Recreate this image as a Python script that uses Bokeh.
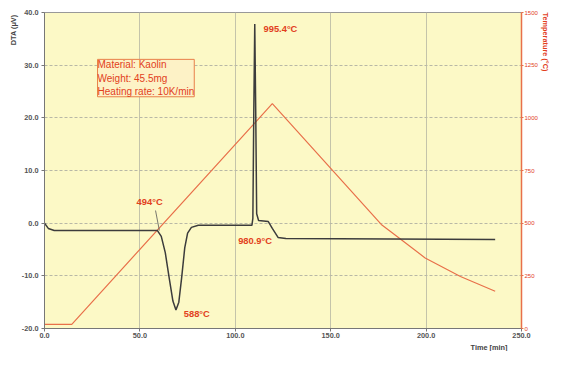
from bokeh.plotting import figure
from bokeh.models import Range1d, LinearAxis, FixedTicker, CustomJSTickFormatter, Label, ColumnDataSource, Title
from bokeh.core.properties import value
from bokeh.embed import file_html
from bokeh.resources import INLINE

# DTA signal (time in min, uV)
dta_t = [0.0, 2.0, 5.1, 55.1, 59.2, 61.2, 63.3, 65.3, 67.3, 68.9, 70.4, 71.9, 73.5, 75.0, 77.0, 80.6,
         108.7, 109.2, 109.7, 110.2, 110.7, 111.2, 112.2, 117.3, 119.4, 122.4, 126.5, 236.2]
dta_v = [0.0, -1.0, -1.4, -1.4, -1.4, -2.5, -5.6, -10.3, -14.8, -16.5, -15.0, -10.3, -4.7, -1.9, -0.8, -0.4,
         -0.4, 0.9, 21.4, 37.8, 21.4, 1.8, 0.5, 0.3, -1.0, -2.7, -2.9, -3.1]

# Temperature program (time in min, degC)
temp_t = [0.0, 14.3, 119.4, 176.5, 186.0, 199.5, 218.0, 236.2]
temp_v = [20, 20, 1067, 494, 428, 335, 247, 177]

# Annotations
ann_text = ["995.4°C", "494°C", "588°C", "980.9°C"]
ann_x = [114.8, 55.1, 73.0, 101.5]
ann_y = [36.8, 4.0, -17.2, -3.4]
ann_align = ["left", "center", "left", "left"]

x_ticks = [0, 50, 100, 150, 200, 250]
y_ticks = [-20, -10, 0, 10, 20, 30, 40]
t_ticks = [0, 250, 500, 750, 1000, 1250, 1500]

info_text = "Material: Kaolin\nWeight: 45.5mg\nHeating rate: 10K/min"

FONT = "Liberation Sans"
RED = "#e2401c"

p = figure(width=551, height=351, output_backend="svg", toolbar_location=None,
           x_range=Range1d(0, 250), y_range=Range1d(-20, 40),
           min_border_left=44, min_border_right=0, min_border_top=12, min_border_bottom=0)
p.extra_y_ranges = {"temp": Range1d(0, 1500)}
p.background_fill_color = "#fcf9c6"
p.border_fill_color = "white"
p.outline_line_color = "#999999"

# axes
p.xaxis.ticker = FixedTicker(ticks=x_ticks)
p.xaxis.formatter = CustomJSTickFormatter(code="return tick.toFixed(1);")
p.yaxis.ticker = FixedTicker(ticks=y_ticks)
p.yaxis.formatter = CustomJSTickFormatter(code="return tick.toFixed(1);")

rax = LinearAxis(y_range_name="temp", ticker=FixedTicker(ticks=t_ticks))
p.add_layout(rax, "right")

for ax in [p.xaxis[0], p.yaxis[0], rax]:
    ax.axis_label = None
    ax.axis_label_standoff = 0
    ax.axis_label_text_font_size = "1px"
    ax.major_label_text_font = FONT
    ax.major_tick_in = 0
    ax.minor_tick_line_color = None

for ax in [p.xaxis[0], p.yaxis[0]]:
    ax.major_label_text_font_size = "5.5pt"
    ax.major_label_text_font_style = "bold"
    ax.major_label_text_color = "#555555"
    ax.axis_line_color = "#777777"
    ax.major_tick_line_color = "#777777"
    ax.major_tick_out = 3
    ax.major_label_standoff = 3
p.xaxis.major_label_standoff = 1

rax.major_label_text_font_size = "4.5pt"
rax.major_label_text_color = RED
rax.axis_line_color = "#e8704a"
rax.axis_line_width = 1.5
rax.major_tick_line_color = "#e8704a"
rax.major_tick_out = 2
rax.major_label_standoff = 1

# axis titles as side titles
p.add_layout(Title(text="Time  [min]", align="right", offset=12, standoff=0,
                   text_font=FONT, text_font_size="5.5pt", text_font_style="bold",
                   text_color="#444444"), "below")
p.add_layout(Title(text="DTA  (μV)", align="right", standoff=2,
                   text_font=FONT, text_font_size="5.5pt", text_font_style="bold",
                   text_color="#444444"), "left")
p.add_layout(Title(text="Temperature  (°C)", align="left", standoff=0,
                   text_font=FONT, text_font_size="5.5pt", text_font_style="bold",
                   text_color=RED), "right")

# grid
p.xgrid.grid_line_color = "#c4c4aa"
p.xgrid.grid_line_width = 1
p.ygrid.grid_line_color = "#b8b8a6"
p.ygrid.grid_line_dash = "3 2"

# lines
p.line(temp_t, temp_v, y_range_name="temp", line_color="#e8704a", line_width=1.2)
p.line(dta_t, dta_v, line_color="#3c3c3c", line_width=1.5)

# pointer for 494 label
p.segment(x0=[58.2], y0=[2.4], x1=[60.2], y1=[-1.4], line_color="#555555", line_width=0.8)

src = ColumnDataSource(dict(x=ann_x, y=ann_y, t=ann_text, a=ann_align))
p.text(x="x", y="y", text="t", text_align="a", source=src, text_baseline="middle",
       text_font=value(FONT), text_font_size="7pt", text_font_style="bold", text_color=RED)

info = Label(x=27.8, y=31.1, text=info_text, text_align="left", text_baseline="top",
             text_font=FONT, text_font_size="10px", text_color=RED, text_line_height=1.2,
             background_fill_color="#fdf2c6", border_line_color="#e8804a", border_line_width=1)
p.add_layout(info)

open("out.html", "w").write(file_html(p, INLINE))
